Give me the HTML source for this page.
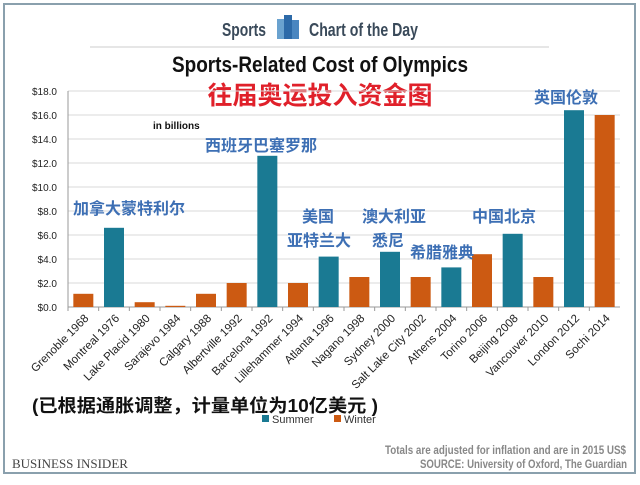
<!DOCTYPE html>
<html><head><meta charset="utf-8"><style>
body{margin:0;background:#fff;width:640px;height:480px;overflow:hidden;font-family:"Liberation Sans","Noto Sans CJK SC",sans-serif}
svg text{font-family:"Liberation Sans","Noto Sans CJK SC",sans-serif}
</style></head><body>
<svg width="640" height="480">
<rect x="4" y="4" width="631" height="469" fill="#fff" stroke="#8aa0ad" stroke-width="2"/>
<text x="222" y="36" font-size="18" font-weight="bold" fill="#3a4a5a" textLength="44" lengthAdjust="spacingAndGlyphs">Sports</text>
<g><rect x="277" y="19" width="7" height="20" fill="#6aa2cf"/><rect x="284" y="15" width="8" height="24" fill="#2d6aa8"/><rect x="292" y="20" width="7" height="19" fill="#4a86c0"/></g>
<text x="309" y="36" font-size="18" font-weight="bold" fill="#3a4a5a" textLength="109" lengthAdjust="spacingAndGlyphs">Chart of the Day</text>
<line x1="90" y1="47" x2="549" y2="47" stroke="#ccc"/>
<text x="172" y="72" font-size="22" font-weight="bold" fill="#111" textLength="296" lengthAdjust="spacingAndGlyphs">Sports-Related Cost of Olympics</text>
<text x="320" y="104" font-size="25" font-weight="bold" fill="#e0202a" text-anchor="middle">往届奥运投入资金图</text>
<text x="153" y="129" font-size="10" font-weight="bold" fill="#111">in billions</text>
<g id="yaxis"></g><g id="bars"></g><g id="xlabels"></g>
<g font-size="16" font-weight="bold" fill="#3d6fb4">
<text x="73" y="214">加拿大蒙特利尔</text>
<text x="205" y="151">西班牙巴塞罗那</text>
<text x="302" y="222">美国</text>
<text x="287" y="246">亚特兰大</text>
<text x="362" y="222">澳大利亚</text>
<text x="372" y="246">悉尼</text>
<text x="410" y="258">希腊雅典</text>
<text x="472" y="222">中国北京</text>
<text x="534" y="103">英国伦敦</text>
</g>
<text x="32" y="412" font-size="18" font-weight="bold" fill="#111" textLength="346" lengthAdjust="spacingAndGlyphs">(已根据通胀调整，计量单位为10亿美元 )</text>
<g font-size="11" fill="#333">
<rect x="262" y="415" width="7" height="7" fill="#1a7a93"/><text x="272" y="423">Summer</text>
<rect x="334" y="415" width="7" height="7" fill="#cc5a12"/><text x="344" y="423">Winter</text>
</g>
<text x="385" y="454" font-size="12" font-weight="bold" fill="#888" textLength="241" lengthAdjust="spacingAndGlyphs">Totals are adjusted for inflation and are in 2015 US$</text>
<text x="420" y="468" font-size="12" font-weight="bold" fill="#888" textLength="207" lengthAdjust="spacingAndGlyphs">SOURCE: University of Oxford, The Guardian</text>
<text x="12" y="468" font-size="13" fill="#444" style="font-family:'Liberation Serif',serif">BUSINESS INSIDER</text>
</svg>
<script>
const categories=["Grenoble 1968","Montreal 1976","Lake Placid 1980","Sarajevo 1984","Calgary 1988","Albertville 1992","Barcelona 1992","Lillehammer 1994","Atlanta 1996","Nagano 1998","Sydney 2000","Salt Lake City 2002","Athens 2004","Torino 2006","Beijing 2008","Vancouver 2010","London 2012","Sochi 2014"];
const values=[1.1,6.6,0.4,0.1,1.1,2.0,12.6,2.0,4.2,2.5,4.6,2.5,3.3,4.4,6.1,2.5,16.4,16.0];
const seasons=["W","S","W","W","W","W","S","W","S","W","S","W","S","W","S","W","S","W"];
const yTicks=[0,2,4,6,8,10,12,14,16,18];
const NS="http://www.w3.org/2000/svg";
const x0=68,x1=620,yTop=91,yBot=307,yMax=18;
const step=(x1-x0)/categories.length;
const y=v=>yBot-(v/yMax)*(yBot-yTop);
const xc=i=>x0+step*(i+0.5);
function mk(t,a,p){const e=document.createElementNS(NS,t);for(const k in a)e.setAttribute(k,a[k]);p.appendChild(e);return e;}
const ya=document.getElementById('yaxis');
yTicks.forEach(t=>{
 const l=mk('line',{x1:x0,x2:x1,y1:y(t),y2:y(t),stroke:'#d8d8d8'},ya);
 
 
 const tx=mk('text',{x:57,y:y(t)+4,'font-size':10,fill:'#222','text-anchor':'end'},ya);
 tx.textContent='$'+t.toFixed(1);
 
 
});
const ax=mk('line',{x1:x0,x2:x0,y1:yTop,y2:yBot,stroke:'#999'},ya);


const bx=mk('line',{x1:x0,x2:x1,y1:yBot,y2:yBot,stroke:'#999'},ya);


const bg=document.getElementById('bars'),xl=document.getElementById('xlabels');
categories.forEach((c,i)=>{
 const bw=20;
 const r=mk('rect',{x:xc(i)-bw/2,y:y(values[i]),width:bw,height:yBot-y(values[i]),fill:seasons[i]==='S'?'#1a7a93':'#cc5a12'},bg);
 
 
 const tk=mk('line',{x1:x0+step*i,x2:x0+step*i,y1:yBot,y2:yBot+4,stroke:'#999'},xl);
 
 
 const tx=mk('text',{x:xc(i)+6,y:yBot+12,'font-size':11.5,fill:'#222','text-anchor':'end',transform:`rotate(-45 ${xc(i)+6} ${yBot+12})`},xl);
 tx.textContent=c;
 
 
});
</script>
</body></html>
